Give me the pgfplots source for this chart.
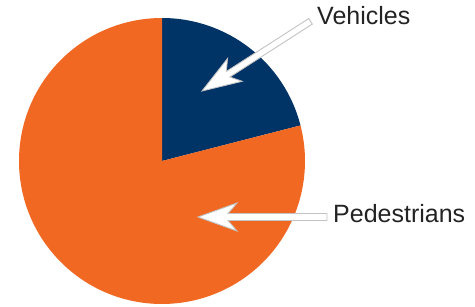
\documentclass[border=0pt]{standalone}
\usepackage{pgfplots}
\pgfplotsset{compat=1.18}
\usepackage{fontspec}
\setmainfont{Liberation Sans}
\definecolor{navy}{RGB}{0,51,102}
\definecolor{orng}{RGB}{241,104,34}
\definecolor{arrowedge}{RGB}{195,195,195}
\definecolor{txt}{RGB}{35,35,35}
% pie data (percent)
\def\vVehicles{21}
\def\vPedestrians{79}
\begin{document}
\begin{tikzpicture}
\begin{axis}[
  scale only axis, width=475pt, height=306pt,
  xmin=0, xmax=475, ymin=0, ymax=306,
  hide axis, clip=false]
\addplot[draw=none] coordinates {(0,0) (475,306)};
\pgfmathsetmacro\aVeh{90-3.6*\vVehicles}
\pgfmathsetmacro\aPed{90+3.6*\vPedestrians}
% Vehicles slice (clockwise from top)
\fill[navy] (axis cs:162,145) -- (axis cs:162,288) arc[start angle=90, end angle=\aVeh, radius=143pt] -- cycle;
% Pedestrians slice (counter-clockwise from top)
\fill[orng] (axis cs:162,145) -- (axis cs:162,288) arc[start angle=90, end angle=\aPed, radius=143pt] -- cycle;
% Vehicles arrow
\begin{scope}[shift={(axis cs:202,215)}, rotate=32.7]
\filldraw[fill=white, draw=arrowedge, line width=0.9pt, line join=miter]
 (0pt,0pt) -- (39pt,13.5pt) -- (31pt,3.3pt) -- (129pt,3.3pt) -- (129pt,-3.3pt) -- (31pt,-3.3pt) -- (39pt,-13.5pt) -- cycle;
\end{scope}
% Pedestrians arrow
\begin{scope}[shift={(axis cs:198,89)}]
\filldraw[fill=white, draw=arrowedge, line width=0.9pt, line join=miter]
 (0pt,0pt) -- (39pt,14pt) -- (30pt,3.5pt) -- (129pt,3.5pt) -- (129pt,-3.5pt) -- (30pt,-3.5pt) -- (39pt,-14pt) -- cycle;
\end{scope}
\node[anchor=base west, inner sep=0pt, font=\fontsize{25}{30}\selectfont, text=txt] at (axis cs:317,281) {Vehicles};
\node[anchor=base west, inner sep=0pt, font=\fontsize{25}{30}\selectfont, text=txt] at (axis cs:333,83) {Pedestrians};
\end{axis}
\end{tikzpicture}
\end{document}
